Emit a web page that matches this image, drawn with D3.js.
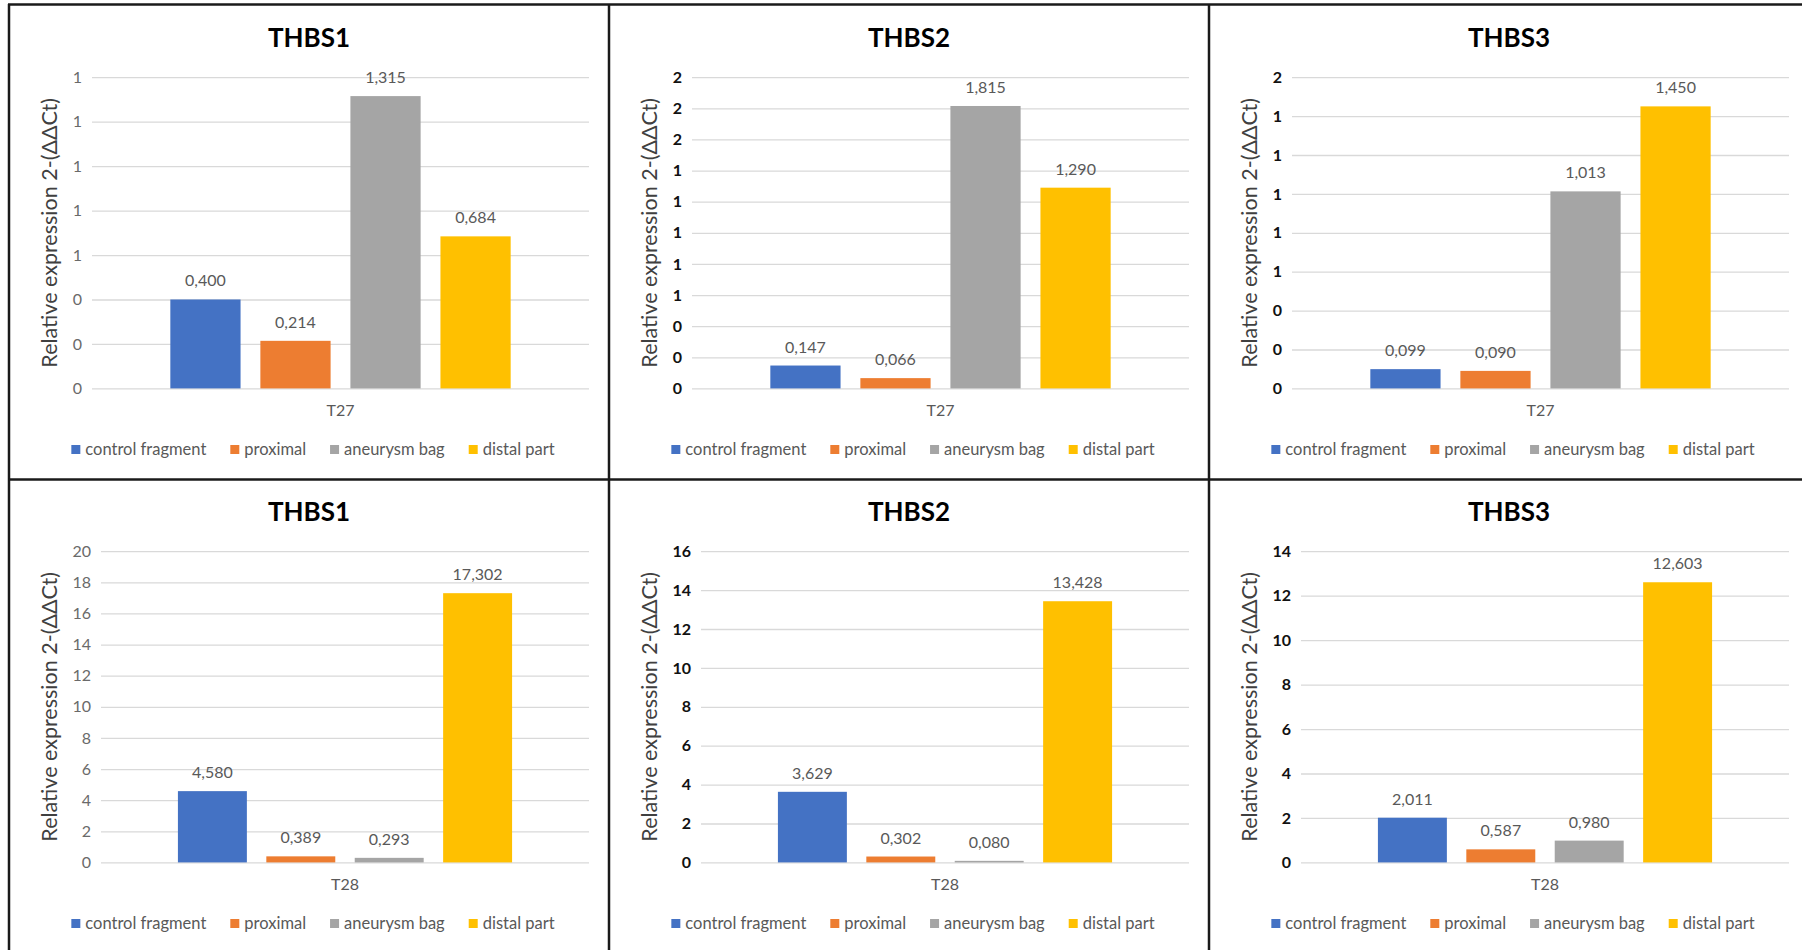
<!DOCTYPE html>
<html>
<head>
<meta charset="utf-8">
<script src="https://cdn.jsdelivr.net/npm/d3@7"></script>
<style>
  body { margin: 0; background: #fff; }
  svg { display: block; font-family: Lato, "Open Sans", sans-serif; }
</style>
</head>
<body>
<div id="wrapper"></div>
<script>
// data
const genes = ["THBS1", "THBS2", "THBS3"];
const categories = ["T27", "T28"];
const series = ["control fragment", "proximal", "aneurysm bag", "distal part"];
const colors = ["#4472C4", "#ED7D31", "#A5A5A5", "#FFC000"];

const valuesT27 = [
  [0.400, 0.214, 1.315, 0.684],
  [0.147, 0.066, 1.815, 1.290],
  [0.099, 0.090, 1.013, 1.450],
];
const valuesT28 = [
  [4.580, 0.389, 0.293, 17.302],
  [3.629, 0.302, 0.080, 13.428],
  [2.011, 0.587, 0.980, 12.603],
];
const axisMaxT27 = [1.4, 2.0, 1.6];
const axisMaxT28 = [20, 16, 14];
const axisSteps = [0.2, 2];
const boldTicks = [false, true, true];
const yTitle = "Relative expression 2-(ΔΔCt)";

function drawCharts() {
  const dimensions = {
    width: 1802,
    height: 950,
    panelLeft: 9,
    panelWidth: 600,
    rowTops: [5, 479],
  }

  const locale = d3.formatLocale({decimal: ",", thousands: ".", grouping: [3], currency: ["", ""]});
  const valueFormat = locale.format(".3f");
  const tickFormat = locale.format(".0f");

  const wrapper = d3.select("#wrapper")
    .append("svg")
      .attr("width", dimensions.width)
      .attr("height", dimensions.height)

  const rows = [
    {category: categories[0], values: valuesT27, maxes: axisMaxT27, step: axisSteps[0], plotLeft: 83},
    {category: categories[1], values: valuesT28, maxes: axisMaxT28, step: axisSteps[1], plotLeft: 92},
  ]

  rows.forEach((row, r) => {
    genes.forEach((gene, g) => {
      const px = dimensions.panelLeft + g * dimensions.panelWidth;
      const py = dimensions.rowTops[r];
      const panel = wrapper.append("g")
        .attr("transform", `translate(${px}, ${py})`)

      const plot = {left: row.plotLeft, right: 580, top: 72.2, bottom: 383.4};
      const plotWidth = plot.right - plot.left;

      const yScale = d3.scaleLinear()
        .domain([0, row.maxes[g]])
        .range([plot.bottom, plot.top]);

      const x0 = d3.scaleBand()
        .domain([row.category])
        .range([plot.left, plot.right])
        .paddingInner(0)
        .paddingOuter(0.19);

      const x1 = d3.scaleBand()
        .domain(series)
        .range([0, x0.bandwidth()])
        .paddingInner(0.22)
        .paddingOuter(0.11);

      // title
      panel.append("text")
        .attr("x", dimensions.panelWidth / 2)
        .attr("y", 33)
        .attr("dy", "0.35em")
        .attr("text-anchor", "middle")
        .style("font-size", "26px")
        .style("font-weight", "bold")
        .attr("fill", "#000")
        .text(gene)

      // gridlines + y ticks
      const tickVals = d3.range(0, row.maxes[g] + row.step / 2, row.step);
      const yAxis = panel.append("g")
        .attr("transform", `translate(${plot.left}, 0)`)
        .call(d3.axisLeft(yScale)
          .tickValues(tickVals)
          .tickFormat(tickFormat)
          .tickSize(-plotWidth)
          .tickPadding(10))
      yAxis.select(".domain").remove();
      yAxis.selectAll(".tick line")
        .attr("stroke", "#D9D9D9")
        .attr("stroke-width", 1.3)
      yAxis.selectAll(".tick text")
        .attr("fill", boldTicks[g] ? "#111" : "#6a6a6a")
        .style("font-weight", boldTicks[g] ? "bold" : "normal")
        .style("font-size", "16px")
        .style("font-family", "Lato, sans-serif")

      // y title
      panel.append("text")
        .attr("transform", `translate(40, ${(plot.top + plot.bottom) / 2}) rotate(-90)`)
        .attr("text-anchor", "middle")
        .attr("dy", "0.35em")
        .attr("fill", "#404040")
        .style("font-size", "21.5px")
        .text(yTitle)

      // bars
      const barData = series.map((s, i) => ({series: s, value: row.values[g][i], color: colors[i]}));
      const group = panel.append("g")
        .attr("transform", `translate(${x0(row.category)}, 0)`)

      group.selectAll("rect")
        .data(barData)
        .join("rect")
          .attr("x", d => x1(d.series))
          .attr("y", d => yScale(d.value))
          .attr("width", x1.bandwidth())
          .attr("height", d => yScale(0) - yScale(d.value))
          .attr("fill", d => d.color)

      group.selectAll(".value-label")
        .data(barData)
        .join("text")
          .attr("class", "value-label")
          .attr("x", d => x1(d.series) + x1.bandwidth() / 2)
          .attr("y", d => yScale(d.value) - 13)
          .attr("text-anchor", "middle")
          .attr("fill", "#595959")
          .style("font-size", "16px")
          .text(d => valueFormat(d.value))

      // category axis
      const xAxis = panel.append("g")
        .attr("transform", `translate(0, ${plot.bottom})`)
        .call(d3.axisBottom(x0).tickSize(0).tickPadding(0))
      xAxis.select(".domain").remove();
      xAxis.selectAll(".tick text")
        .attr("y", 22)
        .attr("dy", "0.35em")
        .attr("fill", "#595959")
        .style("font-size", "16px")
        .style("font-family", "Lato, sans-serif")

      // legend
      const legend = panel.append("g")
        .attr("transform", `translate(0, 444.5)`)
      const items = legend.selectAll("g")
        .data(series)
        .join("g")
      items.append("rect")
        .attr("y", -4.5)
        .attr("width", 9)
        .attr("height", 9)
        .attr("fill", (d, i) => colors[i])
      items.append("text")
        .attr("x", 14)
        .attr("dy", "0.35em")
        .attr("fill", "#595959")
        .style("font-size", "16.5px")
        .text(d => d)
      let offset = 0;
      items.each(function() {
        const item = d3.select(this);
        item.attr("transform", `translate(${offset}, 0)`);
        offset += 14 + item.select("text").node().getComputedTextLength() + 24;
      })
      const legendWidth = offset - 24;
      legend.attr("transform", `translate(${dimensions.panelWidth / 2 - legendWidth / 2 + 4}, 444.5)`)
    })
  })

  // panel borders
  const borders = wrapper.append("g")
    .attr("stroke", "#1a1a1a")
    .attr("stroke-width", 2.5)
  ;[9, 609, 1209].forEach(x => {
    borders.append("line").attr("x1", x).attr("x2", x).attr("y1", 4).attr("y2", dimensions.height)
  })
  ;[4.5, 479.5].forEach(y => {
    borders.append("line").attr("x1", 8).attr("x2", dimensions.width).attr("y1", y).attr("y2", y)
  })
}

drawCharts();
</script>
</body>
</html>
